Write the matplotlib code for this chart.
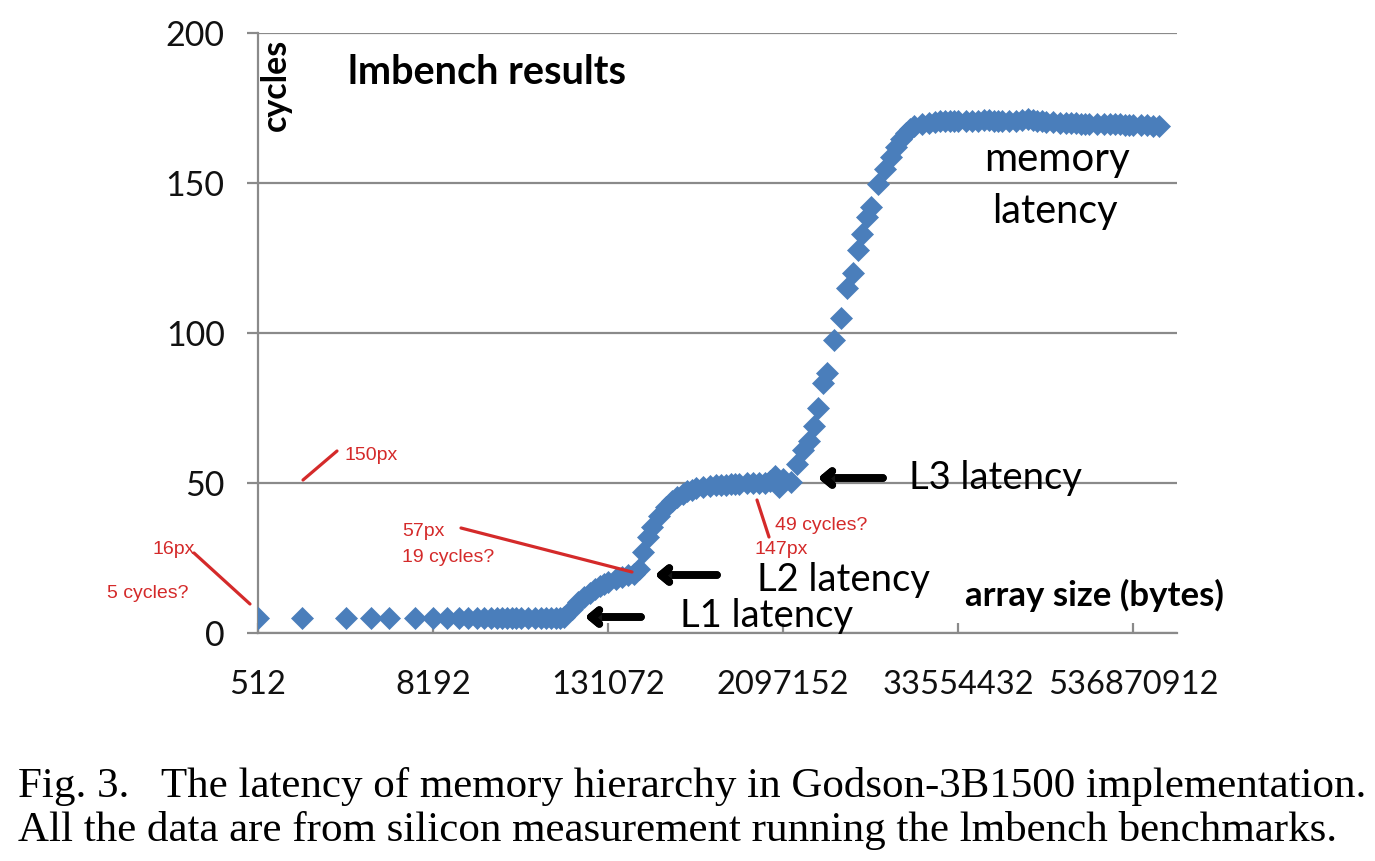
import matplotlib
matplotlib.use('Agg')
import matplotlib.pyplot as plt
import matplotlib.patheffects as pe
from matplotlib.lines import Line2D

# array sizes (KB) as stepped by lmbench lat_mem_rd, and measured latency (cycles)
sizes_kb = [0.5, 1, 2, 3, 4, 6, 8, 10, 12, 14, 16,
            18, 20, 22, 24, 26, 28, 30, 32,
            36, 40, 44, 48, 52, 56, 60, 64,
            72, 80, 88, 96, 104, 112, 120, 128,
            144, 160, 176, 192, 208, 224, 240, 256,
            288, 320, 352, 384, 416, 448, 480, 512,
            576, 640, 704, 768, 832, 896, 960, 1024,
            1152, 1280, 1408, 1536, 1664, 1792, 1920, 2048,
            2304, 2560, 2816, 3072, 3328, 3584, 3840, 4096,
            4608, 5120, 5632, 6144, 6656, 7168, 7680, 8192,
            9216, 10240, 11264, 12288, 13312, 14336, 15360, 16384,
            18432, 20480, 22528, 24576, 26624, 28672, 30720, 32768,
            36864, 40960, 45056, 49152, 53248, 57344, 61440, 65536,
            73728, 81920, 90112, 98304, 106496, 114688, 122880, 131072,
            147456, 163840, 180224, 196608, 212992, 229376, 245760, 262144,
            294912, 327680, 360448, 393216, 425984, 458752, 491520, 524288,
            589824, 655360, 720896, 786432]

cycles = [5.0, 5.0, 5.0, 5.0, 5.0, 5.0, 5.0, 5.0, 5.0, 5.0, 5.0,
          5.0, 5.0, 5.0, 5.0, 5.0, 5.0, 5.0, 5.0,
          5.0, 5.0, 5.0, 5.0, 5.0, 5.0, 5.1, 5.3,
          8.0, 10.3, 12.0, 13.4, 14.6, 15.6, 16.4, 17.1,
          18.0, 18.7, 19.2, 19.6, 21.5, 27.0, 32.0, 35.5,
          39.0, 42.0, 44.0, 45.5, 46.5, 47.3, 47.8, 48.2,
          48.6, 49.0, 49.2, 49.3, 49.5, 49.6, 49.7, 49.8,
          49.9, 50.0, 50.0, 50.1, 50.6, 52.5, 48.8, 51.5,
          50.5, 56.5, 61.0, 64.0, 69.0, 75.0, 83.5, 86.5,
          97.5, 105.0, 115.0, 120.0, 127.5, 133.0, 138.5, 142.0,
          149.5, 154.5, 158.5, 162.0, 164.5, 166.5, 168.0, 169.0,
          169.5, 170.0, 170.3, 170.5, 170.6, 170.6, 170.7, 170.7,
          170.8, 170.7, 170.8, 170.9, 171.0, 170.8, 170.6, 170.5,
          170.6, 170.8, 171.0, 171.2, 170.9, 170.7, 170.5, 170.3,
          170.2, 170.1, 170.0, 170.0, 169.9, 169.8, 169.8, 169.7,
          169.7, 169.6, 169.6, 169.5, 169.5, 169.4, 169.4, 169.3,
          169.3, 169.2, 169.0, 168.9]

xticks = [512, 8192, 131072, 2097152, 33554432, 536870912]
yticks = [0, 50, 100, 150, 200]

sizes = [k * 1024 for k in sizes_kb]

W, H = 1375, 861
fig = plt.figure(figsize=(W / 100, H / 100), dpi=100)
ax = fig.add_axes([258 / W, 1 - 633 / H, 919 / W, 600 / H])

grey = '#8a8a8a'
blue = '#4a7ebb'
red = '#d42a2a'
sans = 'Lato'

ax.plot(sizes, cycles, linestyle='none', marker='D', ms=11,
        color=blue, mec=blue, mew=0.5, zorder=3)

ax.set_xscale('log', base=2)
ax.set_xlim(512, 2 ** 30)
ax.set_ylim(0, 200)
ax.set_xticks(xticks)
ax.set_xticklabels([str(t) for t in xticks])
ax.minorticks_off()
ax.set_yticks(yticks)

ax.grid(axis='y', color=grey, lw=1.6, zorder=0)
for s in ['top', 'right']:
    ax.spines[s].set_visible(False)
for s in ['left', 'bottom']:
    ax.spines[s].set_color(grey)
    ax.spines[s].set_linewidth(1.6)
ax.tick_params(axis='y', direction='out', length=8, width=1.6, color=grey,
               pad=16, labelsize=24.5, labelcolor='#111111')
ax.tick_params(axis='x', direction='in', length=7, width=1.6, color=grey,
               pad=27, labelsize=23.5, labelcolor='#111111')
for lab in ax.get_xticklabels() + ax.get_yticklabels():
    lab.set_fontfamily(sans)


def fx(px):
    return px / W


def fy(py):
    return 1 - py / H


# chart labels
fig.text(fx(348), fy(73), 'lmbench results', family=sans, weight='bold',
         fontsize=28.5, va='center', ha='left')
fig.text(fx(276), fy(85), 'cycles', family=sans, weight='bold',
         fontsize=24.5, rotation=90, va='center', ha='center')
fig.text(fx(965), fy(595), 'array size (bytes)', family=sans, weight='bold',
         fontsize=25, va='center', ha='left')
fig.text(fx(1057), fy(160), 'memory', family=sans, fontsize=29,
         va='center', ha='center')
fig.text(fx(1055), fy(212), 'latency', family=sans, fontsize=28.5,
         va='center', ha='center')

# latency arrows
arrows = [('L1 latency', 641, 585, 617, 680, 616),
          ('L2 latency', 717, 655, 575, 757, 580),
          ('L3 latency', 883, 818, 478, 909, 478)]
for label, x0, x1, yy, tx, ty in arrows:
    a = ax.annotate('', xy=(fx(x1), fy(yy)), xytext=(fx(x0), fy(yy)),
                    xycoords='figure fraction', textcoords='figure fraction',
                    arrowprops=dict(arrowstyle='->,head_length=0.6,head_width=0.5',
                                    lw=5.5, color='black', shrinkA=0, shrinkB=0))
    a.arrow_patch.set_path_effects([pe.withSimplePatchShadow(offset=(2, -3), alpha=0.25),
                                    pe.Normal()])
    fig.text(fx(tx), fy(ty), label, family=sans, fontsize=27.5,
             va='center', ha='left', zorder=5)

# red hand-written notes
notes = [('16px', 152, 549), ('5 cycles?', 107, 594), ('150px', 345, 455),
         ('57px', 402, 532), ('19 cycles?', 402, 557),
         ('49 cycles?', 775, 525), ('147px', 755, 549)]
for txt, px, py in notes:
    fig.text(fx(px), fy(py), txt, family='Liberation Sans', fontsize=14,
             color=red, va='center', ha='left')
red_lines = [(194, 553, 250, 604), (303, 480, 337, 451),
             (461, 528, 632, 572), (757, 500, 769, 537)]
for xa, ya, xb, yb in red_lines:
    fig.add_artist(Line2D([fx(xa), fx(xb)], [fy(ya), fy(yb)],
                          transform=fig.transFigure, color=red, lw=2.3,
                          solid_capstyle='round'))

# caption
fig.text(fx(18), fy(787), 'Fig. 3.   The latency of memory hierarchy in Godson-3B1500 implementation.',
         family='Liberation Serif', fontsize=31, va='center', ha='left')
fig.text(fx(18), fy(830), 'All the data are from silicon measurement running the lmbench benchmarks.',
         family='Liberation Serif', fontsize=31, va='center', ha='left')

fig.savefig('out.png', dpi=100)
